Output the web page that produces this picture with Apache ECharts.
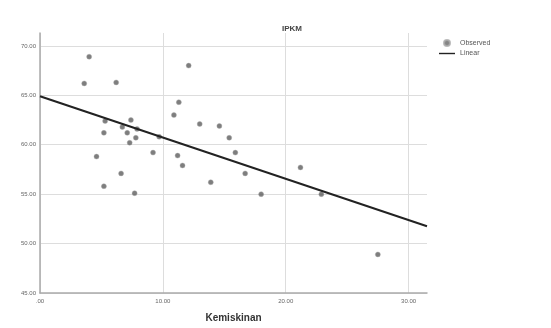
<!DOCTYPE html>
<html>
<head>
<meta charset="utf-8">
<script src="https://cdn.jsdelivr.net/npm/echarts@6/dist/echarts.min.js"></script>
<style>
  html, body { margin: 0; padding: 0; background: #fff; }
  #chart { width: 551px; height: 328px; }
</style>
</head>
<body>
<div id="chart"></div>
<script>
// observed points (Kemiskinan, IPKM)
var kemiskinan = [4.0, 12.1, 3.6, 6.2, 11.3, 10.9, 13.0, 14.6, 15.4, 15.9, 16.7, 13.9, 18.0, 21.2, 22.9, 27.5,
                  5.3, 7.4, 6.7, 7.9, 5.2, 7.1, 7.8, 7.3, 9.7, 9.2, 4.6, 11.2, 11.6, 6.6, 5.2, 7.7];
var ipkm = [68.9, 68.0, 66.2, 66.3, 64.3, 63.0, 62.1, 61.9, 60.7, 59.2, 57.1, 56.2, 55.0, 57.7, 55.0, 48.9,
            62.4, 62.5, 61.8, 61.6, 61.2, 61.2, 60.7, 60.2, 60.8, 59.2, 58.8, 58.9, 57.9, 57.1, 55.8, 55.1];
// linear fit ends
var fitX = [0, 31.5];
var fitY = [64.9, 51.75];

var chart = echarts.init(document.getElementById('chart'));

var observed = [];
for (var i = 0; i < kemiskinan.length; i++) {
	observed.push([kemiskinan[i], ipkm[i]]);
}
var linear = [];
for (var j = 0; j < fitX.length; j++) {
	linear.push([fitX[j], fitY[j]]);
}

function fmt(v) {
	var s = v.toFixed(2);
	return s === '0.00' ? '.00' : s;
}

var option = {
	backgroundColor: '#fff',
	animation: false,
	title: {
		text: 'IPKM',
		left: 287,
		top: 20,
		textAlign: 'center',
		textStyle: { fontSize: 8, fontWeight: 'bold', color: '#444', fontFamily: 'Liberation Sans' }
	},
	legend: {
		orient: 'vertical',
		left: 434,
		top: 34,
		itemWidth: 16,
		itemHeight: 6,
		itemGap: 3,
		textStyle: { fontSize: 7, color: '#555', fontFamily: 'Liberation Sans' },
		data: [
			{ name: 'Observed', icon: 'circle', itemStyle: { color: '#666' } },
			{ name: 'Linear', icon: 'path://M0,2.3L16,2.3L16,3.7L0,3.7Z', itemStyle: { color: '#222' } }
		]
	},
	grid: { left: 40, right: 124, top: 33, bottom: 32 },
	xAxis: {
		type: 'value',
		min: 0,
		max: 31.5,
		interval: 10,
		name: 'Kemiskinan',
		nameLocation: 'middle',
		nameGap: 20,
		nameTextStyle: { fontSize: 10, fontWeight: 'bold', color: '#333', fontFamily: 'Liberation Sans' },
		axisLine: { lineStyle: { color: '#aaa', width: 1.5 } },
		axisTick: { show: false },
		axisLabel: {
			fontSize: 6, color: '#666', margin: 5, showMaxLabel: false,
			formatter: function (v) { return v % 10 === 0 ? fmt(v) : ''; }
		},
		splitLine: { show: true, showMaxLine: false, lineStyle: { color: '#ddd', width: 1 } }
	},
	yAxis: {
		type: 'value',
		min: 45,
		max: 71.3,
		interval: 5,
		axisLine: { show: true, lineStyle: { color: '#aaa', width: 1.5 } },
		axisTick: { show: false },
		axisLabel: {
			fontSize: 6, color: '#666', margin: 4, showMaxLabel: false,
			formatter: function (v) { return v % 5 === 0 ? fmt(v) : ''; }
		},
		splitLine: { show: true, showMaxLine: false, lineStyle: { color: '#ddd', width: 1 } }
	},
	series: [
		{
			name: 'Observed',
			type: 'scatter',
			symbol: 'circle',
			symbolSize: 5,
			itemStyle: { color: '#5e5e5e', borderColor: '#aaa', borderWidth: 0.5 },
			data: observed,
			z: 3
		},
		{
			name: 'Linear',
			type: 'line',
			symbol: 'none',
			lineStyle: { color: '#222', width: 2 },
			itemStyle: { color: '#222' },
			data: linear,
			z: 4
		}
	]
};

chart.setOption(option);
</script>
</body>
</html>
